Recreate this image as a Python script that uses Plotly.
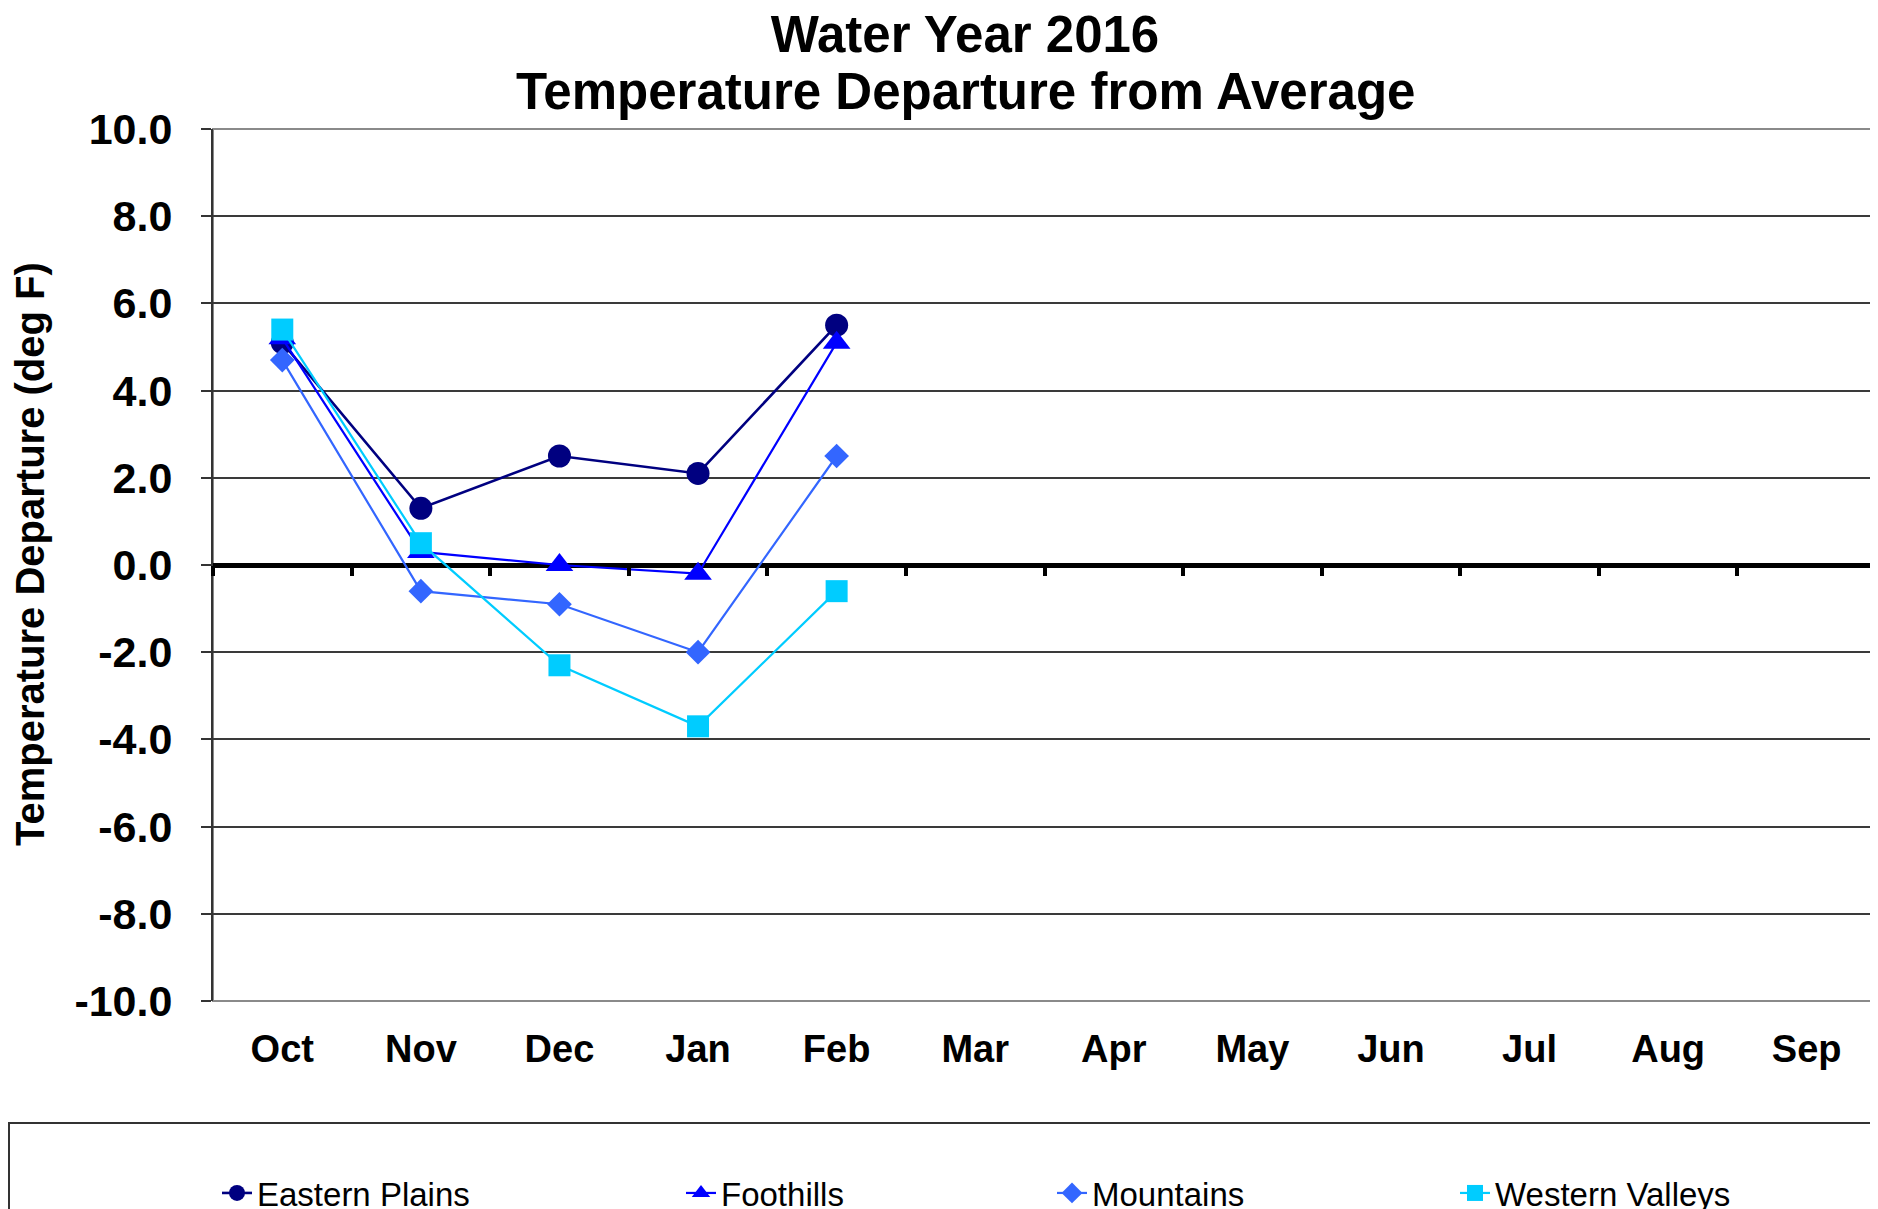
import plotly.graph_objects as go

months = ["Oct", "Nov", "Dec", "Jan", "Feb", "Mar", "Apr", "May", "Jun", "Jul", "Aug", "Sep"]
observed = months[:5]

eastern_plains = [5.1, 1.3, 2.5, 2.1, 5.5]
foothills = [5.2, 0.3, 0.0, -0.2, 5.1]
mountains = [4.7, -0.6, -0.9, -2.0, 2.5]
western_valleys = [5.4, 0.5, -2.3, -3.7, -0.6]

y_ticks = [-10, -8, -6, -4, -2, 0, 2, 4, 6, 8, 10]

title_line1 = "Water Year 2016"
title_line2 = "Temperature Departure from Average"

# page body has an 8px margin; build the figure in page coords minus that
OFF = 8
W, H = 1878 - OFF, 1209 - OFF
L = 213 - OFF
R = W - (1876 - OFF)
T = 129 - OFF
B = H - (1001 - OFF)
plot_w = W - L - R
plot_h = H - T - B

series = [
    ("Eastern Plains", eastern_plains, "#000080", "circle", 23, 2.6),
    ("Foothills", foothills, "#0000FF", "triangle-up", 24, 2.2),
    ("Mountains", mountains, "#3366FF", "diamond", 19, 2.2),
    ("Western Valleys", western_valleys, "#00CCFF", "square", 22, 2.2),
]
legend_text_x = [258, 722, 1093, 1496]

fig = go.Figure()
for i, (name, vals, col, sym, sz, lw) in enumerate(series):
    fig.add_trace(go.Scatter(
        x=observed, y=vals, name=name, mode="lines+markers",
        line=dict(color=col, width=lw),
        marker=dict(color=col, symbol=sym, size=sz),
        legend="legend" if i == 0 else f"legend{i+1}",
    ))

# invisible carrier trace so the zero-line tick axis is drawn
fig.add_trace(go.Scatter(
    x=list(range(len(observed))), y=eastern_plains, xaxis="x2",
    mode="markers", marker=dict(opacity=0), showlegend=False, hoverinfo="skip",
))

font_family = "Liberation Sans, Arial, sans-serif"

legend_common = dict(
    orientation="h", xref="container", yref="container",
    yanchor="middle", y=1 - (1193 - OFF) / H, xanchor="left",
    bgcolor="rgba(0,0,0,0)", borderwidth=0,
    font=dict(family=font_family, size=33, color="black"),
    itemsizing="trace",
)
legends = {}
for i, tx in enumerate(legend_text_x):
    key = "legend" if i == 0 else f"legend{i+1}"
    legends[key] = dict(legend_common, x=(tx - 49) / W)

title_cx = 965 - OFF
fig.update_layout(
    width=W, height=H,
    margin=dict(l=L, r=R, t=T, b=B, pad=0),
    paper_bgcolor="white", plot_bgcolor="white",
    showlegend=True,
    title=dict(
        text=f"<b>{title_line1}</b>",
        font=dict(family=font_family, size=51, color="black"),
        xref="container", x=title_cx / W, xanchor="center",
        yref="container", y=1 - (34 - OFF) / H, yanchor="middle",
    ),
    xaxis=dict(
        type="category", categoryorder="array", categoryarray=months,
        range=[-0.5, len(months) - 0.5],
        showgrid=False, zeroline=False, showline=False, ticks="",
        tickfont=dict(family=font_family, size=38, color="black"),
        ticklabelstandoff=22,
        tickvals=months, ticktext=[f"<b>{m}</b>" for m in months],
    ),
    xaxis2=dict(
        overlaying="x", anchor="free", position=0.5, side="bottom", type="linear",
        range=[-0.5, len(months) - 0.5],
        tickmode="array", tickvals=[k - 0.5 for k in range(len(months) + 1)],
        ticks="outside", ticklen=10, tickwidth=3.5, tickcolor="black",
        showticklabels=False, showgrid=False, zeroline=False, showline=False,
    ),
    yaxis=dict(
        range=[-10, 10], tickmode="array", tickvals=y_ticks,
        ticktext=[f"<b>{v:.1f}</b>" for v in y_ticks],
        tickfont=dict(family=font_family, size=43, color="black"),
        showgrid=True, gridcolor="#3a3a3a", gridwidth=1.5,
        zeroline=True, zerolinecolor="black", zerolinewidth=4.5,
        showline=True, linecolor="#333333", linewidth=2,
        ticks="outside", ticklen=10, tickwidth=1.5, tickcolor="#333333",
        ticklabelstandoff=20,
    ),
    annotations=[
        dict(
            text="<b>Temperature Departure (deg F)</b>",
            xref="paper", yref="paper", x=0, y=0.5,
            xanchor="center", yanchor="middle", xshift=(30 - OFF) - L, yshift=11,
            textangle=-90, showarrow=False,
            font=dict(family=font_family, size=40, color="black"),
        ),
        dict(
            text=f"<b>{title_line2}</b>",
            xref="paper", yref="paper",
            x=(title_cx - L) / plot_w, y=1 + (T - (92 - OFF)) / plot_h,
            xanchor="center", yanchor="middle", showarrow=False,
            font=dict(family=font_family, size=51, color="black"),
        ),
    ],
    shapes=[
        dict(
            type="rect", xref="paper", yref="paper", x0=0, x1=1, y0=0, y1=1,
            line=dict(color="#8a8a8a", width=2), fillcolor="rgba(0,0,0,0)",
            layer="below",
        ),
        dict(
            type="rect", xref="paper", yref="paper",
            x0=(1 - L) / plot_w, x1=1.05,
            y0=-(H + 20 - T - plot_h) / plot_h,
            y1=-((1123 - OFF) - T - plot_h) / plot_h,
            line=dict(color="#333333", width=2), fillcolor="rgba(0,0,0,0)",
            layer="below",
        ),
    ],
    **legends,
)

fig.write_html("out.html")
